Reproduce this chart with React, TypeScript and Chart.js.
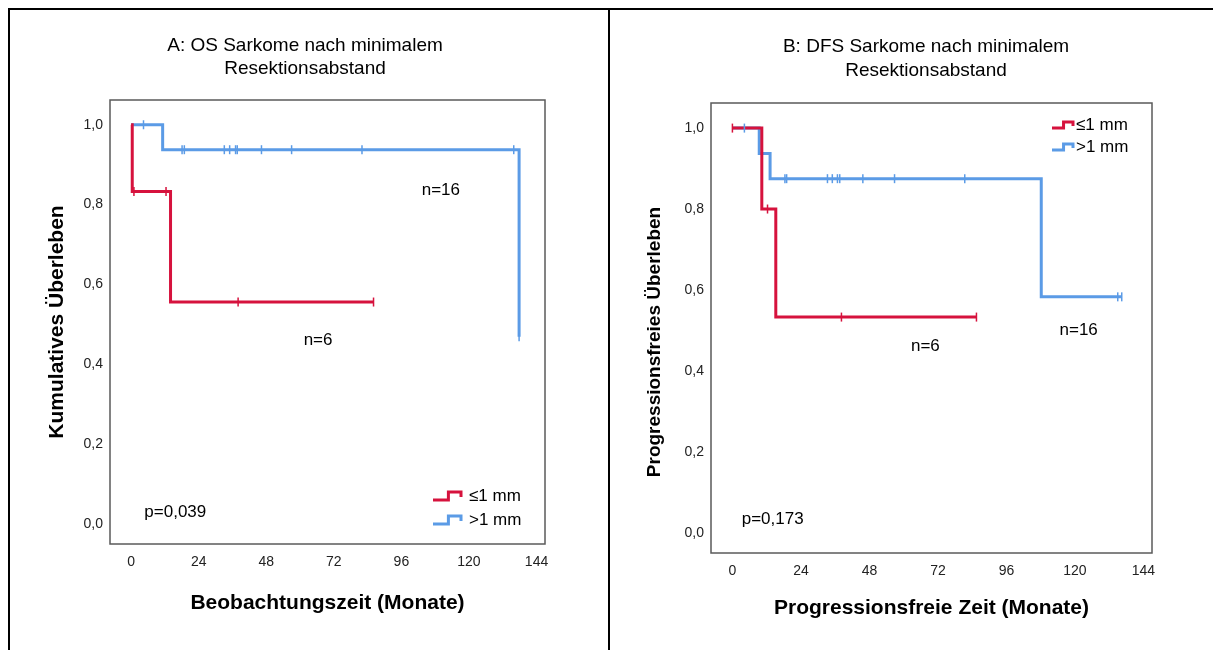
import React, { useEffect, useRef } from "react";
import { Chart, registerables } from "chart.js";

Chart.register(...registerables);

const FONT = '"Liberation Sans", Arial, Helvetica, sans-serif';
const RED = "#d6123d";
const BLUE = "#5b9be6";

const xTickValues = [0, 24, 48, 72, 96, 120, 144];
const yTickValues = [0, 0.2, 0.4, 0.6, 0.8, 1.0];
const groupLabels = ["≤1 mm", ">1 mm"];

// A: OS (overall survival)
const osLowTimes = [0, 0.4, 14.0, 86.1];
const osLowSurv = [1, 0.833, 0.556, 0.556];
const osLowCensored = [1.0, 12.4, 38.0, 86.1];
const osHighTimes = [0, 11.2, 137.8];
const osHighSurv = [1, 0.9375, 0.469];
const osHighCensored = [4.4, 18.1, 18.9, 33.1, 35.0, 37.1, 37.7, 46.3, 57.0, 82.0, 135.9, 137.8];

// B: DFS (progression-free survival)
const dfsLowTimes = [0, 10.3, 15.2, 85.5];
const dfsLowSurv = [1, 0.8, 0.533, 0.533];
const dfsLowCensored = [0.0, 12.3, 38.2, 85.5];
const dfsHighTimes = [0, 9.4, 13.2, 108.2, 136.4];
const dfsHighSurv = [1, 0.9375, 0.875, 0.583, 0.583];
const dfsHighCensored = [4.2, 18.4, 19.0, 33.3, 35.0, 36.8, 37.6, 45.7, 56.8, 81.4, 135.0, 136.4];

const stepValue = (times: number[], surv: number[], t: number) => {
  let v = surv[0];
  for (let i = 0; i < times.length; i++) if (times[i] <= t) v = surv[i];
  return v;
};

const annotPlugin = {
  id: "annot",
  beforeDatasetsDraw(chart: any) {
    const { left, top, right, bottom } = chart.chartArea;
    const ctx = chart.ctx;
    ctx.save();
    ctx.strokeStyle = "#5a5a5a";
    ctx.lineWidth = 1.5;
    ctx.strokeRect(left, top, right - left, bottom - top);
    ctx.restore();
  },
  afterDraw(chart: any, _args: any, opts: any) {
    const ctx = chart.ctx;
    const { right, top, bottom } = chart.chartArea;
    const xs = chart.scales.x;
    const ys = chart.scales.y;
    ctx.save();
    ctx.fillStyle = "#000";
    ctx.textBaseline = "middle";
    ctx.textAlign = "center";
    ctx.font = `${opts.titleSize}px ${FONT}`;
    opts.title.forEach((t: string, i: number) => ctx.fillText(t, opts.titleX, opts.titleY + i * opts.titleGap));
    // y axis title (rotated)
    ctx.save();
    ctx.translate(opts.yTitle.x, opts.yTitle.y);
    ctx.rotate(-Math.PI / 2);
    ctx.font = `bold ${opts.yTitle.size}px ${FONT}`;
    ctx.fillText(opts.yTitle.text, 0, 0);
    ctx.restore();
    ctx.font = `17px ${FONT}`;
    opts.texts.forEach((t: any) => ctx.fillText(t.text, xs.getPixelForValue(t.x), ys.getPixelForValue(t.y)));
    // legend
    const lg = opts.legend;
    const baseY = lg.fromBottom ? bottom - lg.dy : top + lg.dy;
    const iconLeft = right - lg.iconOffset;
    const w = lg.iconW;
    const h = lg.iconH;
    [RED, BLUE].forEach((c, i) => {
      const y = baseY + i * lg.rowGap;
      ctx.strokeStyle = c;
      ctx.lineWidth = 3;
      ctx.lineJoin = "miter";
      ctx.beginPath();
      ctx.moveTo(iconLeft, y + h / 2);
      ctx.lineTo(iconLeft + w * 0.55, y + h / 2);
      ctx.lineTo(iconLeft + w * 0.55, y - h / 2);
      ctx.lineTo(iconLeft + w, y - h / 2);
      ctx.lineTo(iconLeft + w, y + 1);
      ctx.stroke();
      ctx.fillStyle = "#000";
      ctx.textAlign = "left";
      ctx.font = `17px ${FONT}`;
      ctx.fillText(groupLabels[i], right - lg.textOffset, y);
    });
    ctx.restore();
  },
};

type Spec = {
  low: [number[], number[], number[]];
  high: [number[], number[], number[]];
  xTitle: string;
  padding: { top: number; right: number };
  yWidth: number;
  xHeight: number;
  xTitlePad: number;
  annot: any;
};

function buildConfig(spec: Spec): any {
  const curve = (d: [number[], number[], number[]], color: string) => ({
    type: "line",
    data: d[0].map((t, i) => ({ x: t, y: d[1][i] })),
    borderColor: color,
    borderWidth: 3,
    stepped: true,
    pointRadius: 0,
    fill: false,
    order: 2,
  });
  const marks = (d: [number[], number[], number[]], color: string) => ({
    type: "line",
    data: d[2].map((t) => ({ x: t, y: stepValue(d[0], d[1], t) })),
    showLine: false,
    pointStyle: "line",
    rotation: 90,
    pointRadius: 4.5,
    pointBorderWidth: 1.5,
    borderColor: color,
    pointBorderColor: color,
    order: 1,
  });
  return {
    type: "line",
    data: {
      datasets: [curve(spec.low, RED), curve(spec.high, BLUE), marks(spec.low, RED), marks(spec.high, BLUE)],
    },
    options: {
      animation: false,
      responsive: false,
      devicePixelRatio: 1,
      layout: { padding: { top: spec.padding.top, right: spec.padding.right, left: 0, bottom: 0 } },
      plugins: { legend: { display: false }, tooltip: { enabled: false }, annot: spec.annot },
      scales: {
        x: {
          type: "linear",
          min: -7.5,
          max: 147,
          afterFit: (s: any) => {
            s.height = spec.xHeight;
          },
          afterBuildTicks: (s: any) => {
            s.ticks = xTickValues.map((v) => ({ value: v }));
          },
          grid: { display: false, drawTicks: false },
          border: { display: false },
          ticks: {
            padding: 10,
            color: "#222",
            font: { family: FONT, size: 14 },
            maxRotation: 0,
            callback: (v: any) => String(v),
          },
          title: {
            display: true,
            text: spec.xTitle,
            color: "#000",
            font: { family: FONT, size: 21, weight: "bold" },
            padding: { top: 0, bottom: spec.xTitlePad },
          },
        },
        y: {
          type: "linear",
          min: -0.05,
          max: 1.062,
          afterFit: (s: any) => {
            s.width = spec.yWidth;
          },
          afterBuildTicks: (s: any) => {
            s.ticks = yTickValues.map((v) => ({ value: v }));
          },
          grid: { display: false, drawTicks: false },
          border: { display: false },
          ticks: {
            padding: 7,
            color: "#222",
            font: { family: FONT, size: 14 },
            callback: (v: any) => Number(v).toFixed(1).replace(".", ","),
          },
        },
      },
    },
    plugins: [annotPlugin],
  };
}

const specA: Spec = {
  low: [osLowTimes, osLowSurv, osLowCensored],
  high: [osHighTimes, osHighSurv, osHighCensored],
  xTitle: "Beobachtungszeit (Monate)",
  padding: { top: 92, right: 64 },
  yWidth: 102,
  xHeight: 106,
  xTitlePad: 34,
  annot: {
    title: ["A: OS Sarkome nach minimalem", "Resektionsabstand"],
    titleSize: 19,
    titleX: 297,
    titleY: 38,
    titleGap: 23,
    yTitle: { text: "Kumulatives Überleben", x: 49, y: 314, size: 21 },
    texts: [
      { text: "n=16", x: 110, y: 0.835 },
      { text: "n=6", x: 66.4, y: 0.459 },
      { text: "p=0,039", x: 15.7, y: 0.03 },
    ],
    legend: { fromBottom: true, dy: 48, rowGap: 24, iconOffset: 112, iconW: 28, iconH: 8, textOffset: 76 },
  },
};

const specB: Spec = {
  low: [dfsLowTimes, dfsLowSurv, dfsLowCensored],
  high: [dfsHighTimes, dfsHighSurv, dfsHighCensored],
  xTitle: "Progressionsfreie Zeit (Monate)",
  padding: { top: 95, right: 61 },
  yWidth: 102,
  xHeight: 97,
  xTitlePad: 29,
  annot: {
    title: ["B: DFS Sarkome nach minimalem", "Resektionsabstand"],
    titleSize: 19,
    titleX: 317,
    titleY: 39,
    titleGap: 24,
    yTitle: { text: "Progressionsfreies Überleben", x: 46, y: 334, size: 19 },
    texts: [
      { text: "n=16", x: 121.3, y: 0.501 },
      { text: "n=6", x: 67.6, y: 0.46 },
      { text: "p=0,173", x: 14.1, y: 0.034 },
    ],
    legend: { fromBottom: false, dy: 22, rowGap: 22, iconOffset: 100, iconW: 21, iconH: 6, textOffset: 76 },
  },
};

function KMChart({ spec, left, width }: { spec: Spec; left: number; width: number }) {
  const ref = useRef<HTMLCanvasElement | null>(null);
  useEffect(() => {
    if (!ref.current) return;
    const chart = new Chart(ref.current, buildConfig(spec));
    return () => chart.destroy();
  }, [spec]);
  return (
    <canvas
      ref={ref}
      width={width}
      height={642}
      style={{ position: "absolute", left, top: 8, width, height: 642 }}
    />
  );
}

export default function App() {
  useEffect(() => {
    document.body.style.margin = "0";
    document.body.style.overflow = "hidden";
  }, []);
  return (
    <div style={{ position: "relative", width: 1213, height: 650, background: "#fff", overflow: "hidden" }}>
      <KMChart spec={specA} left={8} width={601} />
      <KMChart spec={specB} left={609} width={604} />
      <div style={{ position: "absolute", left: 8, top: 8, width: 1205, height: 2, background: "#000" }} />
      <div style={{ position: "absolute", left: 8, top: 8, width: 2, height: 642, background: "#000" }} />
      <div style={{ position: "absolute", left: 608, top: 8, width: 2, height: 642, background: "#000" }} />
    </div>
  );
}
